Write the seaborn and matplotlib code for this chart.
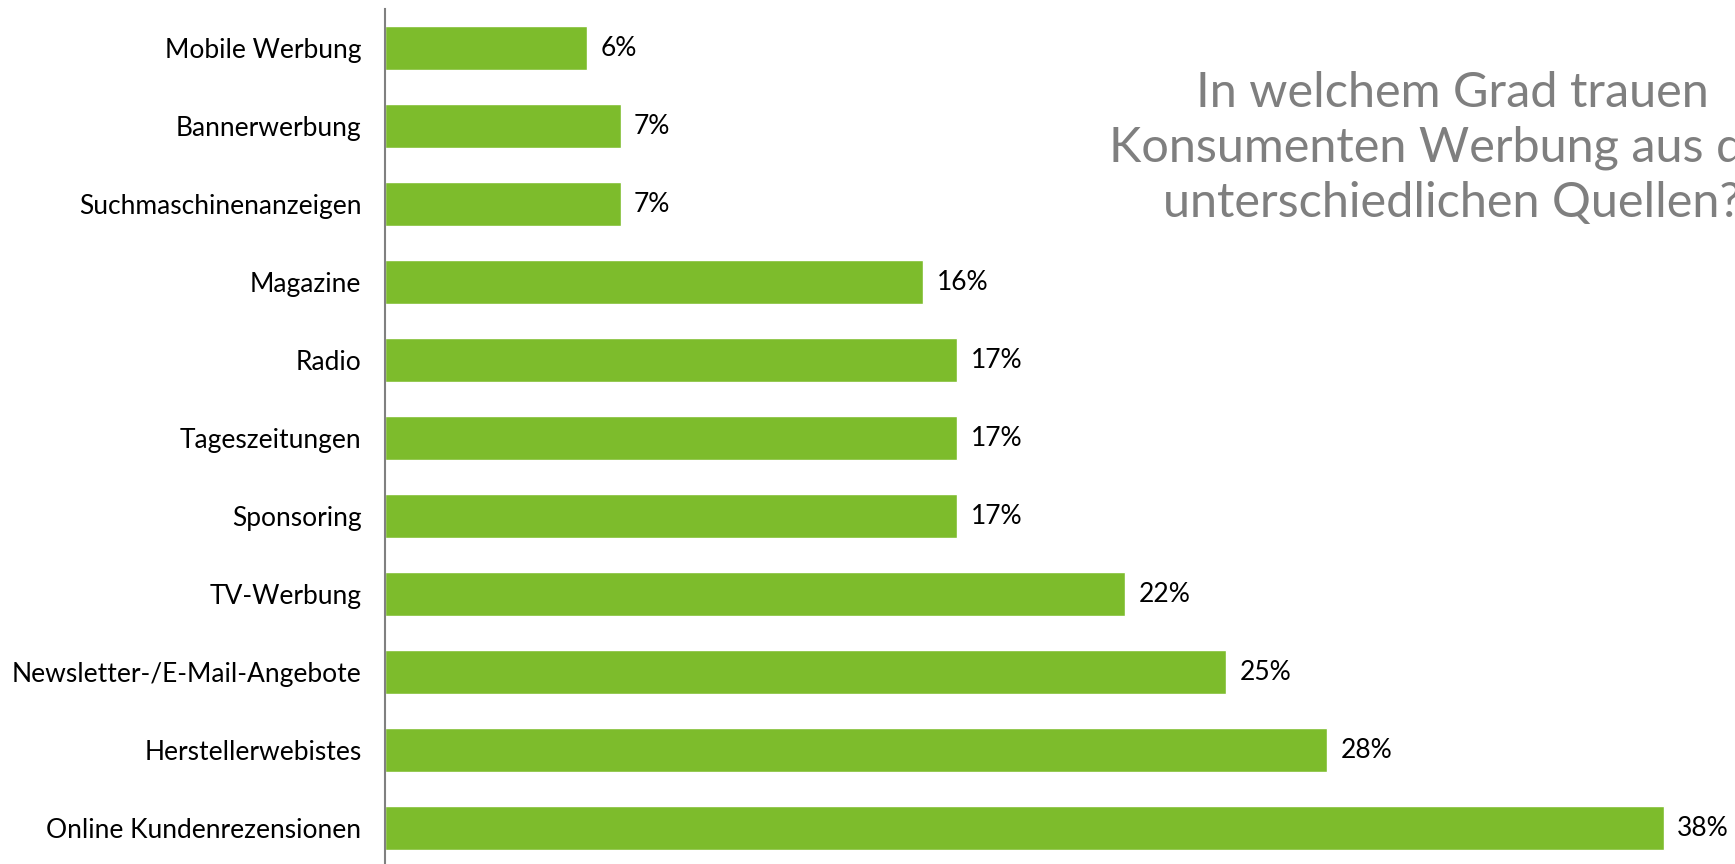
import numpy as np
import pandas as pd
import seaborn as sns
import matplotlib.pyplot as plt

categories = ['Mobile Werbung', 'Bannerwerbung', 'Suchmaschinenanzeigen', 'Magazine',
              'Radio', 'Tageszeitungen', 'Sponsoring', 'TV-Werbung',
              'Newsletter-/E-Mail-Angebote', 'Herstellerwebistes', 'Online Kundenrezensionen']
values = [6, 7, 7, 16, 17, 17, 17, 22, 25, 28, 38]
title = 'In welchem Grad trauen\nKonsumenten Werbung aus den\nunterschiedlichen Quellen?'

df = pd.DataFrame({'Quelle': categories, 'Anteil': values})

sns.set_style('white')
plt.rcParams['font.family'] = ['Lato', 'DejaVu Sans']

fig = plt.figure(figsize=(17.35, 8.64), dpi=100)
ax = fig.add_axes([385 / 1735, 0, (1731 - 385) / 1735, 1 - 9 / 864])

sns.barplot(data=df, x='Anteil', y='Quelle', color='#7DBC2C', width=0.565,
            saturation=1, ax=ax)

for i, v in enumerate(values):
    ax.text(v + 0.4, i, f'{v}%', va='center', ha='left', fontsize=19, color='black')

ax.set_xlim(0, 40)
ax.set_ylim(10.46, -0.5)
ax.set_xlabel('')
ax.set_ylabel('')
ax.set_xticks([])
ax.tick_params(axis='y', length=0, pad=17, labelsize=19, labelcolor='black')
for s in ['top', 'right', 'bottom']:
    ax.spines[s].set_visible(False)
ax.spines['left'].set_color('#808080')
ax.spines['left'].set_linewidth(1.5)

# title sits on the right and runs off the edge like in the original slide
fig.text(1452 / 1735, 1 - 148 / 864, title, ha='center', va='center',
         fontsize=35, color='#7F7F7F', linespacing=1.3)

fig.savefig('out.png', dpi=100)
